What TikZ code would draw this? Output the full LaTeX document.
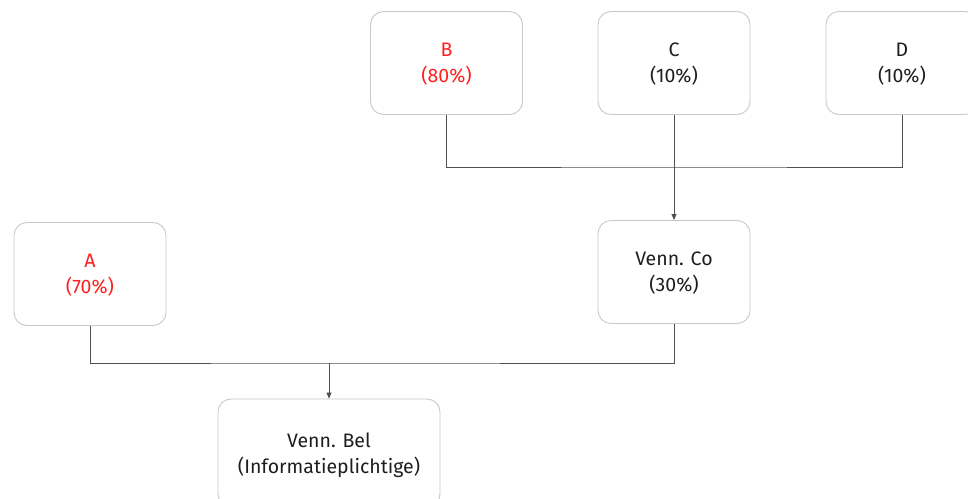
\documentclass[tikz,border=0pt]{standalone}
\usepackage{fontspec}
\setmainfont{Fira Sans}
\usetikzlibrary{arrows.meta}
\definecolor{boxgray}{HTML}{C8C8C8}
\definecolor{linegray}{HTML}{505050}
\definecolor{txtred}{HTML}{FF2020}
\definecolor{txtdark}{HTML}{1E1E1E}
\begin{document}
\begin{tikzpicture}[x=1pt,y=-1pt,
  entity/.style={draw=boxgray, line width=0.9pt, rounded corners=13pt, fill=white,
    minimum width=152pt, minimum height=103pt, align=center, inner sep=0pt,
    font=\fontsize{19.5}{26}\selectfont, text=txtdark, text depth=0pt},
  redtext/.style={text=txtred},
  conn/.style={draw=linegray, line width=0.7pt},
  arr/.style={conn, -{Triangle[length=6pt,width=5pt]}}]
\useasboundingbox (0,0) rectangle (968,498);
\begin{scope}
\clip (0,0) rectangle (968,498);
\node[entity, redtext] (B) at (446.5,63) {B\\(80\%)};
\node[entity] (C) at (674,63) {C\\(10\%)};
\node[entity] (D) at (902,63) {D\\(10\%)};
\node[entity] (Co) at (674,272) {Venn. Co\\(30\%)};
\node[entity, redtext] (A) at (90,274) {A\\(70\%)};
\node[entity, minimum width=222pt, minimum height=108pt] (Bel) at (329,453) {Venn. Bel\\(Informatieplichtige)};
\coordinate (j1) at (674,167);
\coordinate (j2) at (329,363);
\draw[conn] (B.south) |- (j1) -| (D.south);
\draw[arr] (C.south) -- (Co.north);
\draw[conn] (A.south) |- (j2) -| (Co.south);
\draw[arr] (j2) -- (Bel.north);
\end{scope}
\end{tikzpicture}
\end{document}
